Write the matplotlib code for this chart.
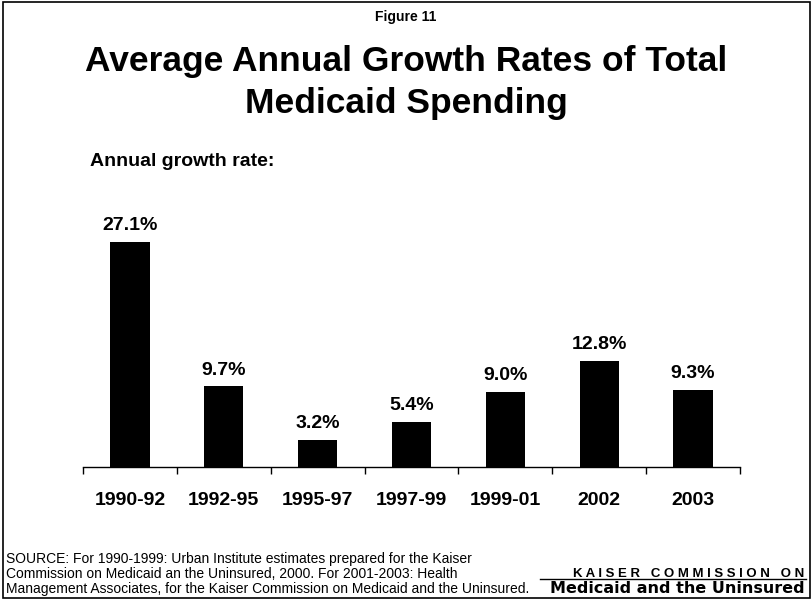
import matplotlib
matplotlib.use("Agg")
import matplotlib.pyplot as plt
from matplotlib.patches import Rectangle

periodos = ["1990-92", "1992-95", "1995-97", "1997-99", "1999-01", "2002", "2003"]
taxas = [27.1, 9.7, 3.2, 5.4, 9.0, 12.8, 9.3]
rotulos = ["27.1%", "9.7%", "3.2%", "5.4%", "9.0%", "12.8%", "9.3%"]

titulo = ["Average Annual Growth Rates of Total", "Medicaid Spending"]
fonte = ["SOURCE: For 1990-1999: Urban Institute estimates prepared for the Kaiser",
         "Commission on Medicaid an the Uninsured, 2000. For 2001-2003: Health",
         "Management Associates, for the Kaiser Commission on Medicaid and the Uninsured."]
logo = ["KAISER", "COMMISSION", "ON"]

plt.rcParams['font.family'] = ['Liberation Sans', 'DejaVu Sans']

W, H = 812, 603
fig = plt.figure(figsize=(W / 100, H / 100), dpi=100)
ax = fig.add_axes([83 / W, 1 - 467 / H, 657 / W, 249 / H])

x = list(range(len(periodos)))
ax.bar(x, taxas, width=0.42, color='black')
for xi, v, r in zip(x, taxas, rotulos):
    ax.annotate(r, (xi, v), xytext=(0, 8.6), textcoords='offset points',
                ha='center', va='baseline', fontsize=14, fontweight='bold')

ax.set_xlim(-0.5, len(periodos) - 0.5)
ax.set_ylim(0, 30)
ax.set_yticks([])
for s in ['top', 'right', 'left']:
    ax.spines[s].set_visible(False)
ax.spines['bottom'].set_linewidth(1.0)

# ticks nas divisas das categorias, rotulos no centro
ax.set_xticks([i - 0.5 for i in range(len(periodos) + 1)])
ax.set_xticklabels([])
ax.tick_params(axis='x', which='major', length=5, width=1, direction='out')
ax.set_xticks(x, minor=True)
ax.set_xticklabels(periodos, minor=True, fontsize=14, fontweight='bold')
ax.tick_params(axis='x', which='minor', length=0, pad=18)

fig.text(0.5, 1 - 21 / H, "Figure 11", ha='center', va='baseline', fontsize=10,
         fontweight='bold')
fig.text(0.5, 1 - 71 / H, titulo[0], ha='center', va='baseline', fontsize=25.5,
         fontweight='bold')
fig.text(0.5, 1 - 113 / H, titulo[1], ha='center', va='baseline', fontsize=25.5,
         fontweight='bold')
fig.text(90 / W, 1 - 166 / H, "Annual growth rate:", ha='left', va='baseline',
         fontsize=14, fontweight='bold')

for i, linha in enumerate(fonte):
    fig.text(6 / W, 1 - (563 + 15 * i) / H, linha, ha='left', va='baseline',
             fontsize=10)

espacado = "   ".join(" ".join(p) for p in logo)
fig.text(804 / W, 1 - 577 / H, espacado, ha='right', va='baseline', fontsize=9.5,
         fontweight='bold')
fig.add_artist(plt.Line2D([540 / W, 806 / W], [1 - 579 / H, 1 - 579 / H],
                          color='black', lw=1, transform=fig.transFigure))
fig.text(805 / W, 1 - 593 / H, "Medicaid and the Uninsured", ha='right',
         va='baseline', fontsize=11.5, fontweight='heavy', family='DejaVu Sans')

fig.add_artist(Rectangle((3 / W, 1 - 598 / H), 807 / W, 596 / H,
                         transform=fig.transFigure, fill=False,
                         edgecolor='black', lw=1.2))

fig.savefig("out.png", dpi=100)
